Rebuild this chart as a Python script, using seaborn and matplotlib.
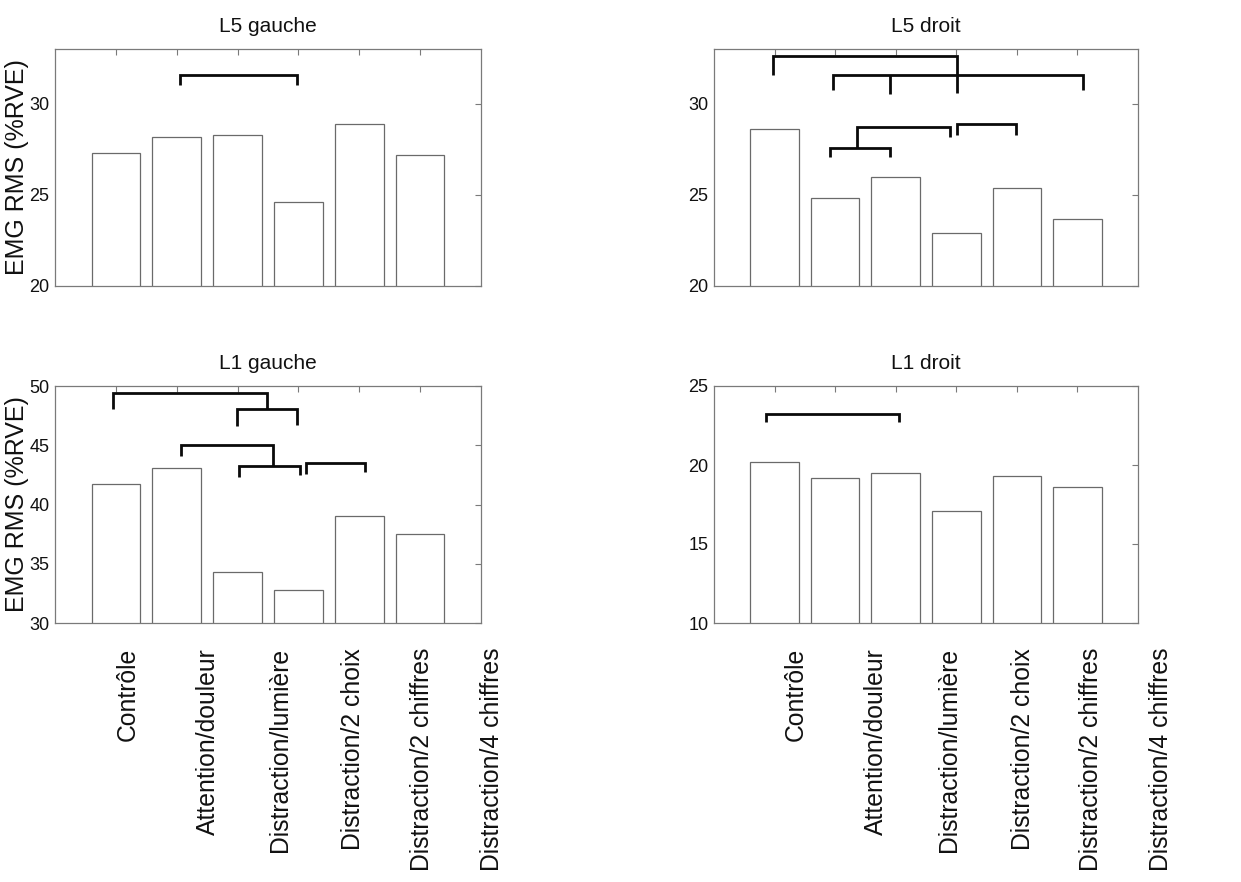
import matplotlib
matplotlib.use("Agg")
import matplotlib.pyplot as plt
import matplotlib.transforms as mtransforms
import pandas as pd
import seaborn as sns

# ---------------- data ----------------
conditions = ["Contrôle", "Attention/douleur", "Distraction/lumière",
              "Distraction/2 choix", "Distraction/2 chiffres", "Distraction/4 chiffres"]
l5_gauche = [27.3, 28.2, 28.3, 24.6, 28.9, 27.2]
l5_droit = [28.6, 24.8, 26.0, 22.9, 25.4, 23.7]
l1_gauche = [41.7, 43.1, 34.3, 32.8, 39.0, 37.5]
l1_droit = [20.2, 19.2, 19.5, 17.1, 19.3, 18.6]

titles = ["L5 gauche", "L5 droit", "L1 gauche", "L1 droit"]
ylims = [(20, 33), (20, 33), (30, 50), (10, 25)]
yticks = [[20, 25, 30], [20, 25, 30], [30, 35, 40, 45, 50], [10, 15, 20, 25]]
ylabel_text = "EMG RMS (%RVE)"

# significance brackets (bar index units): (x_left, x_right, y_line, y_left_end, y_right_end)
brackets_l5_gauche = [(1.05, 2.98, 31.55, 31.05, 31.05)]
brackets_l5_droit = [(-0.02, 3.02, 32.64, 31.55, 30.58),
                     (0.96, 5.09, 31.55, 30.73, 30.73),
                     (1.36, 2.90, 28.72, 27.59, 28.17),
                     (0.92, 1.91, 27.59, 27.08, 27.08),
                     (3.02, 3.99, 28.87, 28.26, 28.30)]
legs_l5_droit = [(1.91, 31.55, 30.55)]
brackets_l1_gauche = [(-0.04, 2.48, 49.39, 48.04, 48.04),
                      (1.99, 2.97, 48.04, 46.65, 46.70),
                      (1.07, 2.58, 45.00, 44.09, 43.25),
                      (2.03, 3.02, 43.25, 42.34, 42.48),
                      (3.13, 4.09, 43.53, 42.57, 42.74)]
brackets_l1_droit = [(-0.14, 2.06, 23.23, 22.70, 22.70)]

# label placement (bar index units) for the rotated condition names
label_x_left = [0.20, 1.51, 2.70, 3.89, 5.03, 6.18]
label_x_right = [0.35, 1.67, 2.88, 4.10, 5.22, 6.38]

panels = [
    (l5_gauche, brackets_l5_gauche, [], None),
    (l5_droit, brackets_l5_droit, legs_l5_droit, None),
    (l1_gauche, brackets_l1_gauche, [], label_x_left),
    (l1_droit, brackets_l1_droit, [], label_x_right),
]

# ---------------- style ----------------
sns.set_theme(style="white")
plt.rcParams["font.family"] = ["Liberation Sans", "DejaVu Sans"]

W, H = 1241, 882
fig = plt.figure(figsize=(W / 100, H / 100), dpi=100)
fig.patch.set_facecolor("white")

rects = [
    [55 / W, 1 - 286 / H, 426 / W, 237 / H],
    [714 / W, 1 - 286 / H, 424 / W, 237 / H],
    [55 / W, 1 - 623 / H, 426 / W, 237 / H],
    [714 / W, 1 - 623 / H, 424 / W, 237 / H],
]

edge_gray = "#6a6a6a"
frame_gray = "#7a7a7a"

for i, (vals, brackets, legs, labx) in enumerate(panels):
    ax = fig.add_axes(rects[i])
    df = pd.DataFrame({"condition": conditions, "value": vals})
    sns.barplot(data=df, x="condition", y="value", order=conditions, ax=ax,
                color="white", edgecolor=edge_gray, linewidth=0.9,
                width=0.8, errorbar=None, saturation=1)
    ax.set_xlim(-1, 6)
    ax.set_ylim(*ylims[i])
    ax.set_yticks(yticks[i])
    ax.set_xticks(range(len(conditions)))
    ax.set_xticklabels([])
    ax.set_xlabel("")
    ax.set_ylabel("")
    ax.set_facecolor("white")
    for sp in ax.spines.values():
        sp.set_visible(True)
        sp.set_color(frame_gray)
        sp.set_linewidth(0.9)
    ax.tick_params(axis="both", direction="in", length=4, width=0.8,
                   color=frame_gray, top=True, right=True, labelsize=13,
                   pad=4, labelcolor="#111111")
    ax.set_title(titles[i], fontsize=15, pad=12, color="#111111")

    if i in (0, 2):
        ax.set_ylabel(ylabel_text, fontsize=18, color="#111111")
        ax.yaxis.set_label_coords(-0.062, 0.5)

    for (xl, xr, yl, yle, yre) in brackets:
        ax.plot([xl, xl, xr, xr], [yle, yl, yl, yre], color="#0a0a0a",
                lw=2.0, solid_joinstyle="miter", solid_capstyle="butt",
                clip_on=False, zorder=5)
    for (xm, yt, yb) in legs:
        ax.plot([xm, xm], [yt, yb], color="#0a0a0a", lw=2.0,
                solid_capstyle="butt", clip_on=False, zorder=5)

    if labx is not None:
        trans = mtransforms.blended_transform_factory(ax.transData, ax.transAxes)
        for xpos, name in zip(labx, conditions):
            ax.text(xpos, -0.105, name, rotation=90, ha="center", va="top",
                    fontsize=17.8, color="#111111", transform=trans,
                    clip_on=False)

fig.savefig("out.png", dpi=100, facecolor="white")
